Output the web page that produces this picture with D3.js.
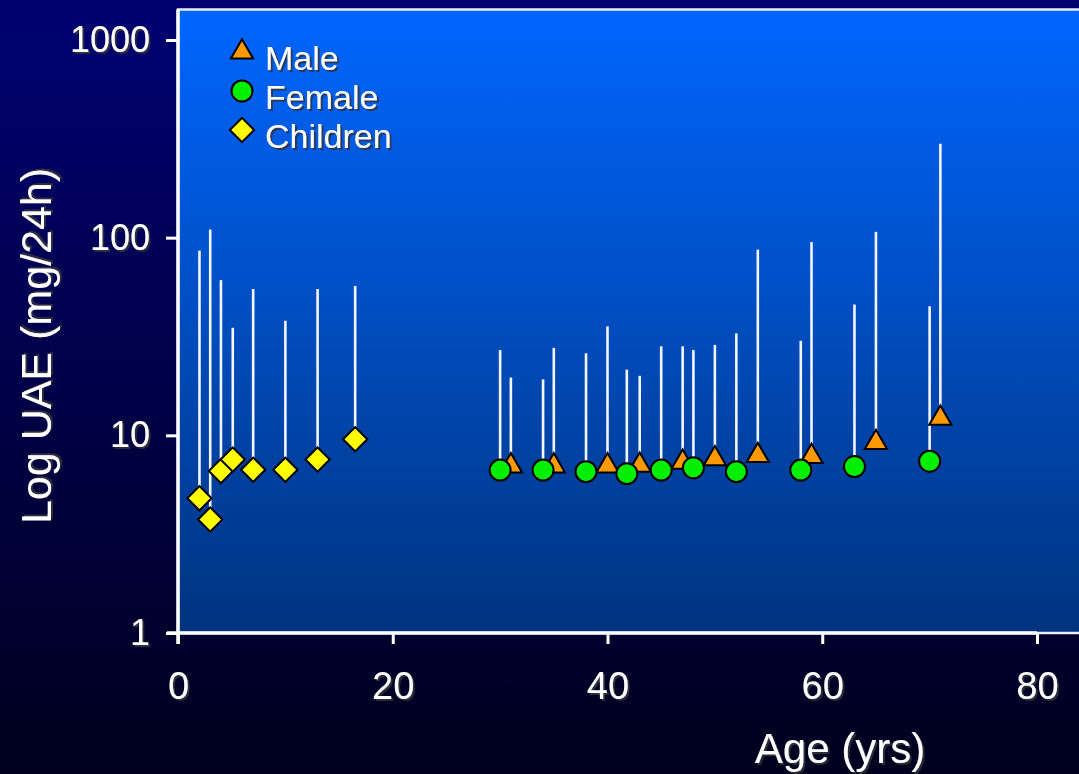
<!DOCTYPE html>
<html>
<head>
<meta charset="utf-8">
<script src="https://cdn.jsdelivr.net/npm/d3@7"></script>
<style>
  html, body { margin: 0; padding: 0; background: #000033; }
  svg { display: block; }
  text { font-family: "Liberation Sans", Arial, sans-serif; fill: #ffffff; }
</style>
</head>
<body>
<svg id="chart" width="1079" height="774"></svg>
<script>
// Urinary albumin excretion (UAE) by age: value and upper range per group
const childAge   = [2, 3, 4, 5.1, 7, 10, 13, 16.5];
const childUAE   = [4.8, 3.75, 6.6, 7.55, 6.7, 6.7, 7.55, 9.55];
const childUpper = [86, 110, 61, 35, 55, 38, 55, 57];

const maleAge   = [31, 35, 40, 43, 47, 50, 54, 59, 65, 71];
const maleUAE   = [7.0, 7.0, 7.0, 7.05, 7.3, 7.6, 7.9, 7.8, 9.2, 12.2];
const maleUpper = [19.6, 27.7, 35.6, 20.0, 28.2, 28.7, 87, 95, 107, 299];

const femaleAge   = [30, 34, 38, 41.8, 45, 48, 52, 58, 63, 70];
const femaleUAE   = [6.67, 6.67, 6.55, 6.4, 6.67, 6.85, 6.55, 6.67, 6.95, 7.4];
const femaleUpper = [27, 19.2, 26, 21.5, 28.2, 27, 32.8, 30.1, 45.9, 45];

const xTicks = [0, 20, 40, 60, 80];
const yTicks = [1, 10, 100, 1000];
const seriesNames = ["Male", "Female", "Children"];

const W = 1079, H = 774;
const svg = d3.select("#chart");
const defs = svg.append("defs");

// page and plot gradients
const pageGrad = defs.append("linearGradient").attr("id", "pageGrad")
  .attr("x1", 0).attr("y1", 0).attr("x2", 0).attr("y2", 1);
pageGrad.append("stop").attr("offset", "0%").attr("stop-color", "#000072");
pageGrad.append("stop").attr("offset", "100%").attr("stop-color", "#00001e");

const plotGrad = defs.append("linearGradient").attr("id", "plotGrad")
  .attr("x1", 0).attr("y1", 0).attr("x2", 0).attr("y2", 1);
plotGrad.append("stop").attr("offset", "0%").attr("stop-color", "#0066ff");
plotGrad.append("stop").attr("offset", "100%").attr("stop-color", "#00337e");

const shadow = defs.append("filter").attr("id", "txtShadow")
  .attr("x", "-10%").attr("y", "-10%").attr("width", "130%").attr("height", "130%");
shadow.append("feDropShadow").attr("dx", 2).attr("dy", 2).attr("stdDeviation", 0.6)
  .attr("flood-color", "#30303e").attr("flood-opacity", 0.85);

svg.append("rect").attr("width", W).attr("height", H).attr("fill", "url(#pageGrad)");

const x = d3.scaleLinear().domain([0, 80]).range([178, 1037]);
const y = d3.scaleLog().domain([1, 1000]).range([633, 40]);

const plotTop = 9.5;
// plot panel (runs past the right edge of the page)
svg.append("rect")
  .attr("x", x(0)).attr("y", plotTop)
  .attr("width", W - x(0) + 10).attr("height", y(1) - plotTop)
  .attr("fill", "url(#plotGrad)")
  .attr("stroke", "#e8ecff").attr("stroke-width", 2.5);

// axes
const yAxis = d3.axisLeft(y).tickValues(yTicks).tickFormat(d3.format("d"))
  .tickSize(12).tickPadding(16);
const gy = svg.append("g").attr("transform", `translate(${x(0)},0)`).call(yAxis);
gy.select(".domain").remove();
gy.append("line").attr("x1", 0).attr("x2", 0).attr("y1", plotTop).attr("y2", y(1) + 11)
  .attr("stroke", "#ffffff").attr("stroke-width", 3.5);
gy.selectAll(".tick line").attr("stroke", "#ffffff").attr("stroke-width", 3);
gy.selectAll(".tick text").attr("fill", "#ffffff").attr("font-size", 36)
  .attr("font-family", "Liberation Sans, Arial, sans-serif")
  .attr("filter", "url(#txtShadow)");

const xAxis = d3.axisBottom(x).tickValues(xTicks).tickSize(11).tickPadding(28);
const gx = svg.append("g").attr("transform", `translate(0,${y(1)})`).call(xAxis);
gx.select(".domain").remove();
gx.append("line").attr("x1", x(0) - 11).attr("x2", x(80)).attr("y1", 0).attr("y2", 0)
  .attr("stroke", "#ffffff").attr("stroke-width", 3.5);
gx.selectAll(".tick line").attr("stroke", "#ffffff").attr("stroke-width", 3);
gx.selectAll(".tick text").attr("fill", "#ffffff").attr("font-size", 38)
  .attr("font-family", "Liberation Sans, Arial, sans-serif")
  .attr("filter", "url(#txtShadow)");

// axis titles
svg.append("text").attr("x", 840).attr("y", 763).attr("text-anchor", "middle")
  .attr("font-size", 42).attr("filter", "url(#txtShadow)").text("Age (yrs)");
svg.append("text").attr("transform", "translate(51,346) rotate(-90)")
  .attr("text-anchor", "middle").attr("font-size", 43)
  .attr("filter", "url(#txtShadow)").text("Log UAE (mg/24h)");

// marker shapes
const triPath = d3.symbol().type(d3.symbolTriangle).size(215)();
const diaPath = d3.symbol().type(d3.symbolSquare).size(295)();
const styles = {
  Male:     { fill: "#ff9900", draw: g => g.append("path").attr("d", triPath) },
  Female:   { fill: "#00ee00", draw: g => g.append("circle").attr("r", 10.5) },
  Children: { fill: "#ffff00", draw: g => g.append("path").attr("d", diaPath).attr("transform", "rotate(45)") }
};

const groups = [
  { name: "Male",     age: maleAge,   uae: maleUAE,   upper: maleUpper },
  { name: "Female",   age: femaleAge, uae: femaleUAE, upper: femaleUpper },
  { name: "Children", age: childAge,  uae: childUAE,  upper: childUpper }
];

// upper-range lines
const whiskers = svg.append("g");
groups.forEach(gr => {
  gr.age.forEach((a, i) => {
    whiskers.append("line")
      .attr("x1", x(a)).attr("x2", x(a))
      .attr("y1", y(gr.uae[i])).attr("y2", y(gr.upper[i]))
      .attr("stroke", "#f4f6ff").attr("stroke-width", 2.6);
  });
});

// markers
groups.forEach(gr => {
  const st = styles[gr.name];
  gr.age.forEach((a, i) => {
    const g = svg.append("g").attr("transform", `translate(${x(a)},${y(gr.uae[i])})`);
    st.draw(g).attr("fill", st.fill).attr("stroke", "#000000").attr("stroke-width", 2);
  });
});

// legend
const legend = svg.append("g");
seriesNames.forEach((name, i) => {
  const cy = 52 + i * 39;
  const st = styles[name];
  const g = legend.append("g").attr("transform", `translate(242,${cy})`);
  st.draw(g).attr("fill", st.fill).attr("stroke", "#000000").attr("stroke-width", 2);
  legend.append("text").attr("x", 265).attr("y", cy + 18)
    .attr("font-size", 34).attr("filter", "url(#txtShadow)").text(name);
});
</script>
</body>
</html>
